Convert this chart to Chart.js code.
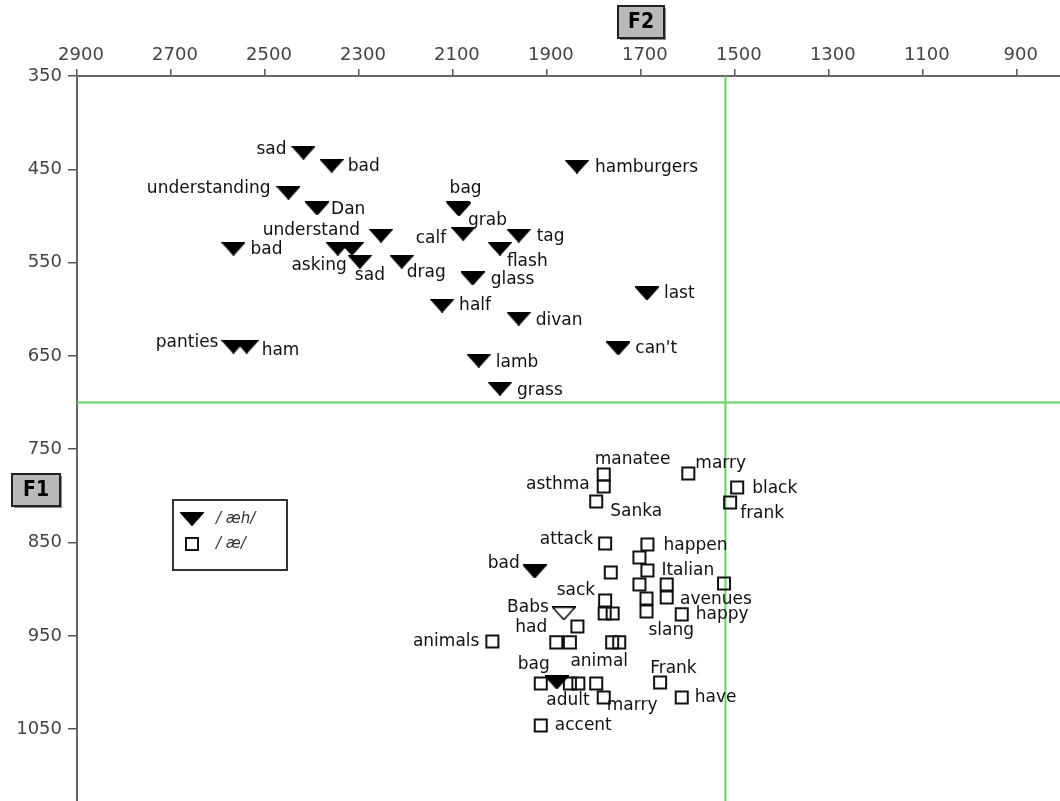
<!DOCTYPE html>
<html>
<head>
<meta charset="utf-8">
<title>F1 / F2 plot of /æh/ and /æ/</title>
<script src="https://cdn.jsdelivr.net/npm/chart.js@4.4.1/dist/chart.umd.min.js"></script>
<style>
  body { margin: 0; background: #fff; }
  canvas { display: block; }
</style>
</head>
<body>
<canvas id="vowelChart" width="1060" height="801"></canvas>
<script>
// axis ticks
let f2Ticks = [2900, 2700, 2500, 2300, 2100, 1900, 1700, 1500, 1300, 1100, 900];
let f1Ticks = [350, 450, 550, 650, 750, 850, 950, 1050];

// reference lines
let splitF2 = 1520;
let splitF1 = 700;

// /æh/ tokens (filled triangles)
let aehWords = ["sad", "bad", "understanding", "Dan", "understand", "bad", "asking", "", "sad", "drag",
	"panties", "ham", "hamburgers", "bag", "grab", "calf", "tag", "flash", "glass", "half",
	"divan", "last", "can't", "lamb", "grass", "bad", "bag", "Babs"];
let aehF2 = [2418, 2358, 2450, 2389, 2253, 2567, 2345, 2315, 2298, 2209,
	2567, 2539, 1836, 2090, 2087, 2078, 1960, 2000, 2058, 2123,
	1960, 1687, 1748, 2045, 2000, 1926, 1879, 1864];
let aehF1 = [432, 446, 475, 492, 521, 535, 535, 535, 549, 549,
	640, 640, 447, 491, 493, 519, 521, 535, 567, 596,
	610, 583, 642, 655, 685, 881, 1000, 926];

// /æ/ tokens (open squares)
let aeWords = ["manatee", "asthma", "Sanka", "marry", "black", "frank", "attack", "happen", "", "Italian",
	"", "", "", "", "", "slang", "avenues", "happy", "sack", "",
	"", "", "had", "", "", "", "animals", "", "adult", "",
	"animal", "marry", "Frank", "have", "accent"];
let aeF2 = [1779, 1779, 1795, 1599, 1495, 1510, 1776, 1686, 1703, 1686,
	1764, 1703, 1645, 1645, 1688, 1688, 1523, 1613, 1776, 1777,
	1760, 1835, 1880, 1851, 1761, 1746, 2016, 1913, 1851, 1833,
	1795, 1779, 1659, 1613, 1913];
let aeF1 = [777, 790, 806, 776, 791, 807, 851, 852, 866, 880,
	882, 895, 895, 909, 910, 924, 894, 927, 912, 926,
	926, 940, 957, 957, 957, 957, 956, 1001, 1001, 1001,
	1001, 1016, 1000, 1016, 1046];

// where each word sits next to its marker: [dx, dy, textAlign]
let aehLabelAt = [[-17, -3, "right"], [16, 1, "left"], [-18, -4, "right"], [14, 1, "left"], [-21, -5, "right"],
	[17, 1, "left"], [9, 17, "right"], null, [-5, 14, "left"], [5, 11, "left"],
	[-15, -4, "right"], [15, 4, "left"], [18, 1, "left"], [8, -19, "center"], [9, 11, "left"],
	[-17, 5, "right"], [18, 1, "left"], [7, 13, "left"], [18, 1, "left"], [17, 0, "left"],
	[17, 2, "left"], [17, 0, "left"], [17, 0, "left"], [17, 2, "left"], [17, 2, "left"],
	[-15, -8, "right"], [-7, -18, "right"], [-15, -6, "right"]];
let aeLabelAt = [[-9, -15, "left"], [-14, -2, "right"], [14, 10, "left"], [7, -10, "left"], [15, 1, "left"],
	[10, 11, "left"], [-12, -4, "right"], [16, 1, "left"], null, [14, 0, "left"],
	null, null, null, null, null, [2, 19, "left"], [-44, 16, "left"], [14, 0, "left"], [-10, -10, "right"], null,
	null, null, [-9, -15, "right"], null, null, null, [-13, 0, "right"], null, [-2, 17, "center"], null,
	[3, -22, "center"], [3, 8, "left"], [-10, -14, "left"], [13, 0, "left"], [14, 0, "left"]];


function makeTriangle(filled) {
	let c = document.createElement("canvas");
	c.width = 24;
	c.height = 14;
	let g = c.getContext("2d");
	g.beginPath();
	g.moveTo(0.75, 0.75);
	g.lineTo(23.25, 0.75);
	g.lineTo(12, 13.25);
	g.closePath();
	if (filled) {
		g.fillStyle = "#000";
		g.fill();
	}
	g.strokeStyle = "#000";
	g.lineWidth = 1.5;
	g.stroke();
	return c;
}

let solidTriangle = makeTriangle(true);
let openTriangle = makeTriangle(false);

function toPoints(f2, f1) {
	return f2.map(function (v, i) {
		return { x: v, y: f1[i] };
	});
}

// no extra room for the end labels, the plot runs off the right and bottom
function noScalePadding(s) {
	s.paddingLeft = 0;
	s.paddingRight = 0;
	s.paddingTop = 0;
	s.paddingBottom = 0;
}

let guideLines = {
	id: "guideLines",
	beforeDatasetsDraw(chart) {
		let ctx = chart.ctx;
		let a = chart.chartArea;
		let gx = chart.scales.x.getPixelForValue(splitF2);
		let gy = chart.scales.y.getPixelForValue(splitF1);
		ctx.save();
		ctx.strokeStyle = "#62d662";
		ctx.lineWidth = 2;
		ctx.beginPath();
		ctx.moveTo(gx, a.top);
		ctx.lineTo(gx, a.bottom);
		ctx.moveTo(a.left, gy);
		ctx.lineTo(a.right, gy);
		ctx.stroke();
		ctx.restore();
	}
};

let wordLabels = {
	id: "wordLabels",
	afterDatasetsDraw(chart) {
		let ctx = chart.ctx;
		ctx.save();
		ctx.font = '17px "DejaVu Sans"';
		ctx.fillStyle = "#111";
		ctx.textBaseline = "middle";
		chart.data.datasets.forEach(function (ds, di) {
			let meta = chart.getDatasetMeta(di);
			meta.data.forEach(function (pt, i) {
				let word = ds.words[i];
				let at = ds.labelAt[i];
				if (!word || !at) return;
				ctx.textAlign = at[2];
				ctx.fillText(word, pt.x + at[0], pt.y + at[1]);
			});
		});
		ctx.restore();
	}
};

function grayBox(ctx, x, y, w, h, text) {
	ctx.fillStyle = "#8a8a8a";
	ctx.fillRect(x + 2, y + 2, w, h);
	ctx.fillStyle = "#b9b9b9";
	ctx.fillRect(x, y, w, h);
	ctx.strokeStyle = "#222";
	ctx.lineWidth = 2;
	ctx.strokeRect(x, y, w, h);
	ctx.fillStyle = "#000";
	ctx.font = 'bold 21px "DejaVu Sans Condensed", "DejaVu Sans"';
	ctx.textAlign = "center";
	ctx.textBaseline = "middle";
	ctx.fillText(text, x + w / 2, y + h / 2 + 1);
}

let boxesAndLegend = {
	id: "boxesAndLegend",
	afterDraw(chart) {
		let ctx = chart.ctx;
		ctx.save();
		grayBox(ctx, 618, 6, 46, 32, "F2");
		grayBox(ctx, 12, 474, 48, 32, "F1");

		// legend
		ctx.fillStyle = "#fff";
		ctx.fillRect(173, 500, 114, 70);
		ctx.strokeStyle = "#333";
		ctx.lineWidth = 2;
		ctx.strokeRect(173, 500, 114, 70);
		ctx.drawImage(solidTriangle, 180, 512);
		ctx.lineWidth = 2;
		ctx.strokeStyle = "#111";
		ctx.strokeRect(186, 538, 12, 12);
		ctx.fillStyle = "#333";
		ctx.font = 'italic 15px "DejaVu Sans"';
		ctx.textAlign = "left";
		ctx.textBaseline = "middle";
		ctx.fillText(chart.data.datasets[0].label, 216, 519);
		ctx.fillText(chart.data.datasets[1].label, 216, 544);
		ctx.restore();
	}
};

let chartCanvas = document.getElementById("vowelChart").getContext("2d");
let vowelChart = new Chart(chartCanvas, {
	type: "scatter",
	data: {
		datasets: [{
			label: "/ æh/",
			data: toPoints(aehF2, aehF1),
			words: aehWords,
			labelAt: aehLabelAt,
			pointStyle: function (c) {
				return aehWords[c.dataIndex] === "Babs" ? openTriangle : solidTriangle;
			},
			pointRadius: 6,
			clip: false
		}, {
			label: "/ æ/",
			data: toPoints(aeF2, aeF1),
			words: aeWords,
			labelAt: aeLabelAt,
			pointStyle: "rect",
			pointRadius: 8.5,
			borderWidth: 2,
			borderColor: "#111",
			backgroundColor: "rgba(0,0,0,0)",
			clip: false
		}]
	},
	options: {
		responsive: false,
		animation: false,
		events: [],
		devicePixelRatio: 1,
		layout: { padding: 0, autoPadding: false },
		plugins: {
			legend: { display: false },
			tooltip: { enabled: false }
		},
		scales: {
			x: {
				type: "linear",
				position: "top",
				reverse: true,
				min: 808,
				max: 2900,
				afterBuildTicks: function (s) {
					s.ticks = f2Ticks.map(function (v) { return { value: v }; });
				},
				afterFit: function (s) {
					s.height = 76;
					noScalePadding(s);
				},
				grid: { drawOnChartArea: false, drawTicks: true, tickLength: 7, color: "#555", lineWidth: 1.5 },
				border: { display: true, color: "#666", width: 2 },
				ticks: {
					padding: 3,
					labelOffset: 4,
					color: "#444",
					font: { family: "DejaVu Sans", size: 18 },
					maxRotation: 0,
					autoSkip: false,
					callback: function (v) { return String(v); }
				}
			},
			y: {
				type: "linear",
				reverse: true,
				min: 350,
				max: 1127,
				afterBuildTicks: function (s) {
					s.ticks = f1Ticks.map(function (v) { return { value: v }; });
				},
				afterFit: function (s) {
					s.width = 77;
					noScalePadding(s);
				},
				grid: { drawOnChartArea: false, drawTicks: true, tickLength: 9, color: "#555", lineWidth: 1.5 },
				border: { display: true, color: "#666", width: 2 },
				ticks: {
					padding: 6,
					color: "#444",
					font: { family: "DejaVu Sans", size: 18 },
					autoSkip: false,
					callback: function (v) { return String(v); }
				}
			}
		}
	},
	plugins: [guideLines, wordLabels, boxesAndLegend]
});
</script>
</body>
</html>
